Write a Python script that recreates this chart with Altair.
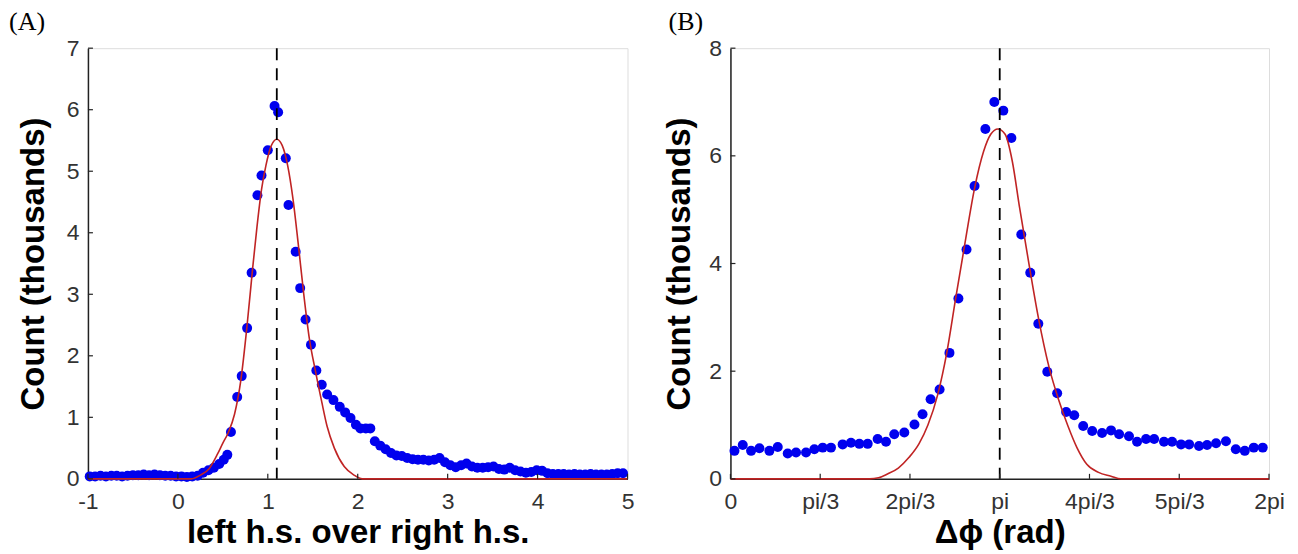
import json
import altair as alt
import pandas as pd

# ---------------- Panel A data ----------------
a_x = [-0.98, -0.92, -0.86, -0.80, -0.74, -0.68, -0.62, -0.56, -0.50, -0.44,
       -0.38, -0.32, -0.26, -0.20, -0.14, -0.08, -0.02, 0.04, 0.10, 0.16,
       0.22, 0.28, 0.34, 0.40, 0.46, 0.51, 0.55, 0.59, 0.66, 0.71,
       0.77, 0.82, 0.885, 0.93, 1.00, 1.075, 1.115, 1.20, 1.23, 1.31,
       1.36, 1.42, 1.48, 1.54, 1.60, 1.66, 1.73, 1.80, 1.86, 1.92,
       1.98, 2.03, 2.09, 2.14, 2.19, 2.25, 2.31, 2.37, 2.43, 2.49,
       2.55, 2.61, 2.67, 2.73, 2.79, 2.85, 2.91, 2.97, 3.03, 3.09,
       3.15, 3.21, 3.27, 3.33, 3.39, 3.45, 3.51, 3.57, 3.63, 3.69,
       3.75, 3.81, 3.87, 3.93, 3.99, 4.05, 4.11, 4.17, 4.23, 4.29,
       4.35, 4.41, 4.47, 4.53, 4.59, 4.65, 4.71, 4.77, 4.83, 4.89, 4.95]
a_y = [0.04, 0.04, 0.05, 0.04, 0.05, 0.05, 0.04, 0.05, 0.06, 0.06,
       0.07, 0.06, 0.07, 0.06, 0.05, 0.05, 0.04, 0.04, 0.03, 0.04,
       0.05, 0.10, 0.14, 0.18, 0.24, 0.31, 0.39, 0.76, 1.33, 1.67,
       2.45, 3.35, 4.61, 4.93, 5.34, 6.06, 5.96, 5.21, 4.45, 3.69,
       3.10, 2.59, 2.18, 1.76, 1.53, 1.37, 1.28, 1.17, 1.08, 0.99,
       0.88, 0.82, 0.82, 0.82, 0.61, 0.54, 0.48, 0.42, 0.38, 0.37,
       0.34, 0.32, 0.31, 0.31, 0.30, 0.31, 0.34, 0.27, 0.22, 0.19,
       0.22, 0.25, 0.20, 0.18, 0.18, 0.19, 0.20, 0.16, 0.15, 0.18,
       0.14, 0.12, 0.10, 0.11, 0.14, 0.13, 0.09, 0.08, 0.08, 0.08,
       0.07, 0.08, 0.07, 0.07, 0.08, 0.07, 0.07, 0.07, 0.08, 0.09, 0.09]
a_fit_x = [-1.0, 0.15, 0.25, 0.35, 0.44, 0.50, 0.56, 0.63, 0.70, 0.77,
           0.83, 0.88, 0.93, 0.98, 1.04, 1.10, 1.16, 1.22, 1.28, 1.34,
           1.40, 1.46, 1.53, 1.60, 1.66, 1.74, 1.85, 1.96, 2.05, 5.0]
a_fit_y = [0.0, 0.0, 0.06, 0.17, 0.40, 0.58, 0.75, 1.05, 1.60, 2.50,
           3.40, 4.10, 4.70, 5.10, 5.42, 5.52, 5.42, 5.10, 4.55, 3.80,
           3.00, 2.30, 1.75, 1.25, 0.85, 0.50, 0.20, 0.06, 0.0, 0.0]
a_peak = [1.1]
a_xticks = [-1, 0, 1, 2, 3, 4, 5]
a_yticks = [0, 1, 2, 3, 4, 5, 6, 7]

# ---------------- Panel B data (x in units of pi/3) ----------------
b_x = [0.045, 0.137, 0.23, 0.323, 0.434, 0.527, 0.638, 0.731, 0.842, 0.935,
       1.028, 1.12, 1.25, 1.343, 1.436, 1.529, 1.64, 1.733, 1.825, 1.937,
       2.05, 2.14, 2.23, 2.33, 2.44, 2.54, 2.63, 2.72, 2.84, 2.94,
       3.04, 3.13, 3.24, 3.34, 3.43, 3.53, 3.64, 3.74, 3.83, 3.93,
       4.03, 4.14, 4.24, 4.33, 4.44, 4.53, 4.63, 4.72, 4.83, 4.92,
       5.02, 5.11, 5.22, 5.31, 5.41, 5.52, 5.63, 5.73, 5.83, 5.93]
b_y = [0.52, 0.63, 0.52, 0.57, 0.52, 0.59, 0.47, 0.49, 0.49, 0.55,
       0.58, 0.58, 0.64, 0.67, 0.65, 0.65, 0.74, 0.69, 0.83, 0.86,
       1.01, 1.20, 1.48, 1.66, 2.34, 3.35, 4.26, 5.44, 6.50, 7.00,
       6.84, 6.33, 4.54, 3.83, 2.88, 1.99, 1.59, 1.24, 1.18, 0.98,
       0.89, 0.85, 0.90, 0.83, 0.79, 0.69, 0.74, 0.74, 0.69, 0.69,
       0.64, 0.64, 0.61, 0.63, 0.66, 0.70, 0.55, 0.52, 0.58, 0.58]
b_fit_x = [0.0, 1.55, 1.65, 1.75, 1.87, 1.99, 2.10, 2.20, 2.31, 2.41,
           2.51, 2.61, 2.72, 2.82, 2.90, 2.98, 3.06, 3.14, 3.22, 3.32,
           3.43, 3.55, 3.66, 3.76, 3.86, 3.97, 4.10, 4.24, 4.35, 6.0]
b_fit_y = [0.0, 0.0, 0.02, 0.09, 0.20, 0.40, 0.65, 1.00, 1.57, 2.34,
           3.36, 4.35, 5.40, 6.08, 6.40, 6.50, 6.40, 5.90, 5.05, 4.05,
           3.00, 2.07, 1.45, 0.98, 0.58, 0.27, 0.12, 0.05, 0.0, 0.0]
b_peak = [3]
b_xticks = [0, 1, 2, 3, 4, 5, 6]
b_xlabels = ["0", "pi/3", "2pi/3", "pi", "4pi/3", "5pi/3", "2pi"]
b_yticks = [0, 2, 4, 6, 8]

H = 431
DOT = "#0000ee"
FIT = "#c02424"
LABEL_FONT = "Liberation Sans"
PLAIN = "'' + datum.value"


def panel(px, py, fx, fy, peak, xdom, ydom, xticks, yticks, xtitle, tag,
          ytitle_pad, tag_dx, width, label_expr=PLAIN):
    xs = alt.Scale(domain=xdom, nice=False, zero=False)
    ys = alt.Scale(domain=ydom, nice=False, zero=False)
    xaxis = alt.Axis(values=xticks, title=xtitle, ticks=False, grid=False,
                     labelExpr=label_expr,
                     labelFont=LABEL_FONT, labelFontSize=23, labelColor="#333",
                     labelPadding=12, titleFont=LABEL_FONT, titleFontSize=33,
                     titleFontWeight="bold", titleColor="black", titlePadding=3,
                     domainColor="#222", domainWidth=1.5, labelFlush=False)
    yaxis = alt.Axis(values=yticks, title="Count (thousands)", ticks=False, grid=False,
                     labelExpr=PLAIN,
                     labelFont=LABEL_FONT, labelFontSize=23, labelColor="#333",
                     labelPadding=9, titleFont=LABEL_FONT, titleFontSize=33,
                     titleFontWeight="bold", titleColor="black",
                     titlePadding=ytitle_pad, minExtent=22, maxExtent=22,
                     domainColor="#222", domainWidth=1.5, labelFlush=False)

    pts = alt.Chart(pd.DataFrame({"x": px, "y": py})).mark_circle(
        size=100, color=DOT, opacity=1).encode(
        x=alt.X("x:Q", scale=xs, axis=xaxis),
        y=alt.Y("y:Q", scale=ys, axis=yaxis))
    fit = alt.Chart(pd.DataFrame({"x": fx, "y": fy})).mark_line(
        color=FIT, strokeWidth=1.6, interpolate="monotone").encode(
        x=alt.X("x:Q", scale=xs), y=alt.Y("y:Q", scale=ys))
    vline = alt.Chart(pd.DataFrame({"x": peak})).mark_rule(
        color="black", strokeWidth=1.8, strokeDash=[12, 8]).encode(
        x=alt.X("x:Q", scale=xs))
    xt = alt.Chart(pd.DataFrame({"x": xticks})).mark_rule(
        color="#222", strokeWidth=1.2).encode(
        x=alt.X("x:Q", scale=xs), y=alt.value(H), y2=alt.value(H - 5))
    yt = alt.Chart(pd.DataFrame({"y": yticks})).mark_rule(
        color="#222", strokeWidth=1.2).encode(
        y=alt.Y("y:Q", scale=ys), x=alt.value(0), x2=alt.value(5))
    return alt.layer(pts, fit, vline, xt, yt).properties(
        width=width, height=H,
        title=alt.TitleParams(text=tag, anchor="start", frame="bounds",
                              font="Liberation Serif", fontSize=26,
                              fontWeight="normal", color="black",
                              dx=tag_dx, offset=2))


left = panel(a_x, a_y, a_fit_x, a_fit_y, a_peak, [-1, 5], [0, 7], a_xticks, a_yticks,
             "left h.s. over right h.s.", "(A)", 15, -9, 540)
right = panel(b_x, b_y, b_fit_x, b_fit_y, b_peak, [0, 6], [0, 8], b_xticks, b_yticks,
              "Δϕ (rad)", "(B)", 12, 5, 539,
              label_expr=json.dumps(b_xlabels) + "[datum.value]")

chart = alt.hconcat(left, right, spacing=28).properties(
    padding={"left": 0, "top": 0, "right": 5, "bottom": 0}
).configure_view(stroke=None).configure(background="white")

chart.save("out.html", embed_options={"renderer": "svg", "actions": False})
